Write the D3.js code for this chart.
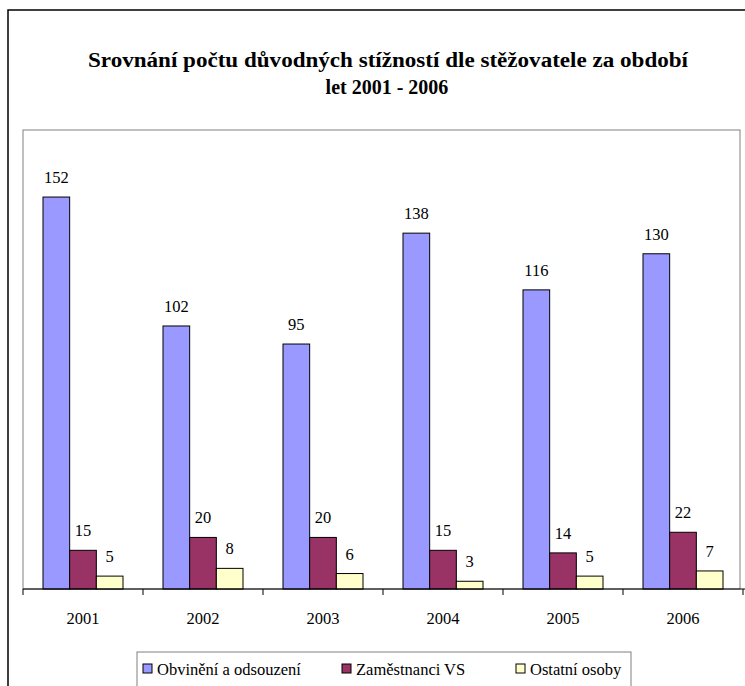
<!DOCTYPE html>
<html>
<head>
<meta charset="utf-8">
<script src="https://cdn.jsdelivr.net/npm/d3@7"></script>
</head>
<body style="margin:0">
<div id="chart"></div>
<script>
const years = ["2001", "2002", "2003", "2004", "2005", "2006"];
const seriesNames = ["Obvinění a odsouzení", "Zaměstnanci VS", "Ostatní osoby"];
const obvineni = [152, 102, 95, 138, 116, 130];
const zamestnanci = [15, 20, 20, 15, 14, 22];
const ostatni = [5, 8, 6, 3, 5, 7];
const colors = ["#9999FF", "#993366", "#FFFFCC"];

const width = 745, height = 686;
const plotLeft = 23, plotRight = 743, plotTop = 130, plotBottom = 589;
const serif = '"Liberation Serif"';

const values = [obvineni, zamestnanci, ostatni];
const data = years.map((y, i) => ({ year: y, vals: values.map(v => v[i]) }));

const svg = d3.select("#chart").append("svg")
  .attr("width", width).attr("height", height);

// outer frame
svg.append("rect")
  .attr("x", 8).attr("y", 10).attr("width", 760).attr("height", 700)
  .attr("fill", "white").attr("stroke", "black").attr("stroke-width", 1.5);

// title
svg.append("text").attr("x", 388).attr("y", 67).attr("text-anchor", "middle")
  .style("font-family", serif)
  .attr("font-weight", "bold").attr("font-size", 20)
  .attr("textLength", 600).attr("lengthAdjust", "spacingAndGlyphs")
  .text("Srovnání počtu důvodných stížností dle stěžovatele za období");
svg.append("text").attr("x", 387).attr("y", 94).attr("text-anchor", "middle")
  .style("font-family", serif)
  .attr("font-weight", "bold").attr("font-size", 20)
  .text("let 2001 - 2006");

// plot area border
svg.append("rect")
  .attr("x", plotLeft).attr("y", plotTop).attr("width", 717).attr("height", plotBottom - plotTop)
  .attr("fill", "none").attr("stroke", "#808080").attr("stroke-width", 1);

const x0 = d3.scaleBand().domain(years).range([plotLeft, plotRight]).padding(0);
const bw = x0.bandwidth();
const gap = bw * 40 / 120;
const x1 = d3.scaleBand().domain(d3.range(3)).range([gap / 2, bw - gap / 2]).padding(0);
const y = d3.scaleLinear().domain([0, 178]).range([plotBottom, plotTop]);

const groups = svg.selectAll("g.year").data(data).enter().append("g")
  .attr("class", "year")
  .attr("transform", d => `translate(${x0(d.year)},0)`);

groups.selectAll("rect").data(d => d.vals).enter().append("rect")
  .attr("x", (d, i) => x1(i))
  .attr("y", d => y(d))
  .attr("width", x1.bandwidth())
  .attr("height", d => plotBottom - y(d))
  .attr("fill", (d, i) => colors[i])
  .attr("stroke", "black").attr("stroke-width", 1);

groups.selectAll("text.val").data(d => d.vals).enter().append("text")
  .attr("class", "val")
  .attr("x", (d, i) => x1(i) + x1.bandwidth() / 2)
  .attr("y", d => y(d) - 14)
  .style("font-family", serif)
  .attr("text-anchor", "middle").attr("font-size", 16.5)
  .text(d => d);

// category axis
const axis = svg.append("g");
axis.append("line").attr("x1", plotLeft).attr("x2", width).attr("y1", plotBottom).attr("y2", plotBottom)
  .attr("stroke", "black").attr("stroke-width", 1.2);
const tickPos = years.map(d => x0(d)).concat([plotRight]);
axis.selectAll("line.tick").data(tickPos).enter().append("line")
  .attr("class", "tick")
  .attr("x1", d => d).attr("x2", d => d).attr("y1", plotBottom).attr("y2", plotBottom + 6)
  .attr("stroke", "black").attr("stroke-width", 1);
axis.selectAll("text").data(years).enter().append("text")
  .attr("x", d => x0(d) + bw / 2).attr("y", 624)
  .style("font-family", serif)
  .attr("text-anchor", "middle").attr("font-size", 16.5)
  .text(d => d);

// legend
const legend = svg.append("g");
legend.append("rect").attr("x", 137).attr("y", 652).attr("width", 494).attr("height", 40)
  .attr("fill", "white").attr("stroke", "#808080").attr("stroke-width", 1);
const legendX = [143, 342, 516];
seriesNames.forEach((name, i) => {
  legend.append("rect").attr("x", legendX[i]).attr("y", 664).attr("width", 9).attr("height", 9)
    .attr("fill", colors[i]).attr("stroke", "black").attr("stroke-width", 1);
  legend.append("text").attr("x", legendX[i] + 14).attr("y", 675)
    .style("font-family", serif)
    .attr("font-size", 16.5).text(name);
});
</script>
</body>
</html>
